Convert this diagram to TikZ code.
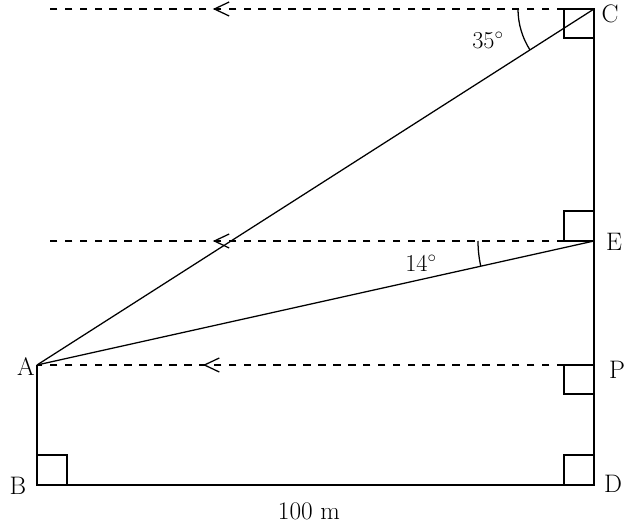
\documentclass[tikz,border=0pt]{standalone}
\usetikzlibrary{arrows.meta,decorations.markings}
\tikzset{
  sight/.style={dash pattern=on 5.4pt off 5.2pt},
  leftarrow/.style={postaction={decorate,decoration={markings,
      mark=at position #1 with {\arrow{Straight Barb[length=3.7mm,width=3.5mm]}}}}},
}
\begin{document}
\begin{tikzpicture}[x=0.025cm,y=-0.025cm,line width=0.9pt,every node/.style={font=\fontsize{18}{21}\selectfont}]
                \useasboundingbox (0,0) rectangle (632,525);
                % points of the figure
                \coordinate (A) at (37,365);
                \coordinate (B) at (37,485);
                \coordinate (C) at (594,9);
                \coordinate (D) at (594,485);
                \coordinate (E) at (594,241);
                \coordinate (P) at (594,365);
                \coordinate (Cl) at (48,9);
                \coordinate (El) at (48,241);
                % horizontal lines
                \draw[sight,leftarrow=0.698] (C) -- (Cl);
                \draw[sight,leftarrow=0.698] (E) -- (El);
                \draw[sight,leftarrow=0.702] (P) -- (A);
                % lines of sight and frame
                \draw (A) -- (C);
                \draw (A) -- (E);
                \draw (A) -- (B) -- (D) -- (C);
                % right angles
                \draw (C) rectangle ++(-30,29);
                \draw (E) rectangle ++(-30,-30);
                \draw (P) rectangle ++(-30,29);
                \draw (D) rectangle ++(-30,-30);
                \draw (B) rectangle ++(30,-30);
                % angles
                \draw (C) ++(180:76) arc[start angle=180,end angle=147.4,radius=76];
                \draw (E) ++(180:116) arc[start angle=180,end angle=167.45,radius=116];
                \node (a35) at (488,40) {$35^\circ$};
                \node (a14) at (421,263) {$14^\circ$};
                % labels
                \node (lA) at (26,367) {A};
                \node (lB) at (18,486) {B};
                \node (lC) at (610,14) {C};
                \node (lD) at (613,484) {D};
                \node (lE) at (614,242) {E};
                \node (lP) at (617,370) {P};
                \node (len) at (309,511) {100 m};
            \end{tikzpicture}
\end{document}
